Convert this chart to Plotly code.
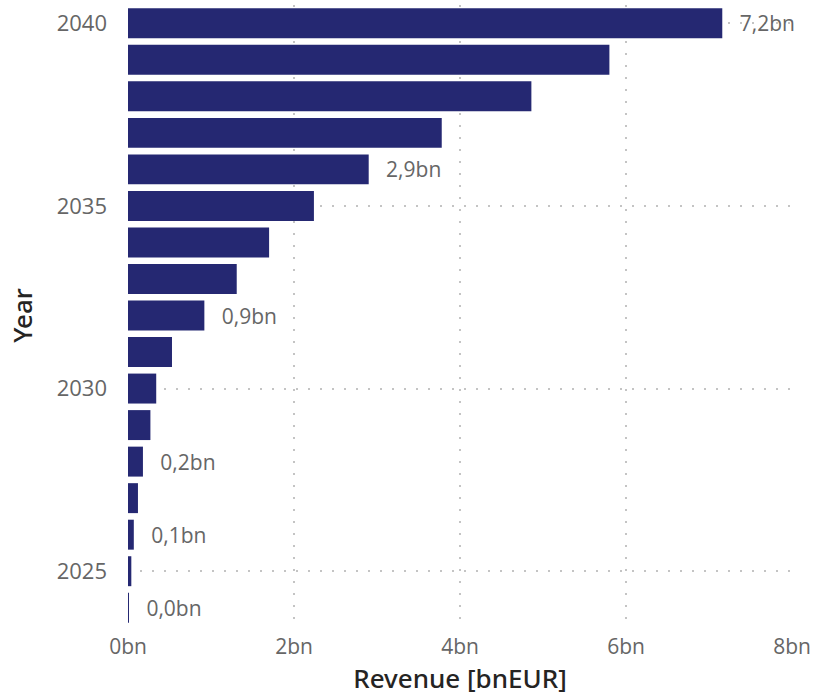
import plotly.graph_objects as go

years = list(range(2024, 2041))
revenue_bn = [0.01, 0.04, 0.07, 0.12, 0.18, 0.27, 0.34, 0.53, 0.92, 1.31, 1.70, 2.24, 2.90, 3.78, 4.86, 5.80, 7.16]
label_years = [2024, 2026, 2028, 2032, 2036, 2040]
x_ticks = [0, 2, 4, 6, 8]
x_ticktext = ["0bn", "2bn", "4bn", "6bn", "8bn"]
y_ticks = [2025, 2030, 2035, 2040]

labels = [("\u00a0\u00a0\u2009" + f"{v:.1f}".replace(".", ",") + "bn") if y in label_years else "" for y, v in zip(years, revenue_bn)]

fig = go.Figure(go.Bar(
    x=revenue_bn, y=years, orientation="h",
    marker=dict(color="#252872", line=dict(width=0)),
    text=labels, textposition="outside", cliponaxis=False, constraintext="none",
    textfont=dict(family="Open Sans", size=21, color="#666666"),
    width=0.82, hoverinfo="skip",
))

fig.update_layout(
    width=814, height=697,
    margin=dict(l=128, r=22, t=5, b=71),
    plot_bgcolor="white", paper_bgcolor="white",
    showlegend=False,
    font=dict(family="Open Sans", color="#666666"),
    xaxis=dict(
        range=[0, 8], tickmode="array", tickvals=x_ticks, ticktext=x_ticktext,
        showgrid=True, gridcolor="#c4c4c4", griddash="2px,10px", gridwidth=1.5,
        zeroline=False, showline=False, automargin=False,
        tickfont=dict(family="Open Sans", size=21, color="#666666"),
        ticklabelstandoff=6,
        title=dict(text="Revenue [bnEUR]", font=dict(family="Noto Sans", size=26, color="#252423", weight=500), standoff=10),
    ),
    yaxis=dict(
        range=[2023.5, 2040.5], tickmode="array", tickvals=y_ticks,
        showgrid=True, gridcolor="#c4c4c4", griddash="2px,10px", gridwidth=1.5,
        zeroline=False, showline=False, automargin=False,
        tickfont=dict(family="Open Sans", size=22, color="#666666"),
        ticklabelstandoff=20,
        title=dict(text="Year", font=dict(family="Noto Sans", size=26, color="#252423", weight=500), standoff=16),
    ),
)

fig.write_html("out.html", config={"displayModeBar": False},
               post_script="document.body.style.margin='0';document.body.style.padding='0';")
